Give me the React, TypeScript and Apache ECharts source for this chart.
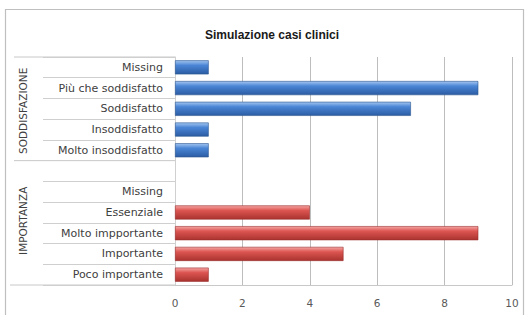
import React, { useEffect, useRef } from "react";
import * as echarts from "echarts";

const title = "Simulazione casi clinici";
const groupNames = ["SODDISFAZIONE", "IMPORTANZA"];
const soddCategories = ["Missing", "Più che soddisfatto", "Soddisfatto", "Insoddisfatto", "Molto insoddisfatto"];
const soddValues = [1, 9, 7, 1, 1];
const impCategories = ["Missing", "Essenziale", "Molto impportante", "Importante", "Poco importante"];
const impValues = [0, 4, 9, 5, 1];
const xTicks = [0, 2, 4, 6, 8, 10];

const FONT = "'DejaVu Sans', 'Liberation Sans', sans-serif";

export default function App() {
  const ref = useRef<HTMLDivElement>(null);
  useEffect(() => {
    document.body.style.margin = "0";
    const chart = echarts.init(ref.current!, null, { renderer: "svg" });
    const categories = [...soddCategories, "", ...impCategories];
    const toItem = (v: number) => (v === 0 ? { value: v, itemStyle: { borderWidth: 0, opacity: 0 } } : v);
    const blue = [...soddValues.map(toItem), ...new Array(impCategories.length + 1).fill(null)];
    const red = [...new Array(soddCategories.length + 1).fill(null), ...impValues.map(toItem)];
    const blueGrad = new echarts.graphic.LinearGradient(0, 0, 0, 1, [
      { offset: 0, color: "#a3c5f0" },
      { offset: 0.35, color: "#4a85d5" },
      { offset: 1, color: "#2b5ca3" },
    ]);
    const redGrad = new echarts.graphic.LinearGradient(0, 0, 0, 1, [
      { offset: 0, color: "#f5a5a3" },
      { offset: 0.35, color: "#dc5551" },
      { offset: 1, color: "#a9332f" },
    ]);
    chart.setOption({
      animation: false,
      backgroundColor: "#ffffff",
      title: {
        text: title,
        left: 200,
        top: 24,
        textStyle: { fontFamily: "'Liberation Sans', sans-serif", fontSize: 12, fontWeight: "bold", color: "#1a1a1a" },
      },
      grid: { left: 175, right: 16, top: 57, bottom: 30 },
      xAxis: {
        type: "value",
        min: xTicks[0],
        max: xTicks[xTicks.length - 1],
        interval: 2,
        axisLine: { show: true, lineStyle: { color: "#c8c8c8" } },
        axisTick: { show: false },
        splitLine: { show: true, lineStyle: { color: "#bdbdbd" } },
        axisLabel: { fontFamily: FONT, fontSize: 10.5, color: "#595959", margin: 12 },
      },
      yAxis: {
        type: "category",
        inverse: true,
        data: categories,
        axisLine: { show: true, lineStyle: { color: "#d0d0d0" } },
        axisTick: { show: true, length: 132, lineStyle: { color: "#cfcfcf" } },
        axisLabel: { fontFamily: FONT, fontSize: 11, color: "#404040", margin: 12 },
      },
      series: [
        {
          type: "bar",
          data: blue,
          barCategoryGap: "32%",
          barGap: "-100%",
          itemStyle: { color: blueGrad, borderColor: "#2a5590", borderWidth: 0.6 },
        },
        {
          type: "bar",
          data: red,
          barCategoryGap: "32%",
          itemStyle: { color: redGrad, borderColor: "#9a2e2b", borderWidth: 0.6 },
        },
      ],
    });

    const n = categories.length;
    const c0 = chart.convertToPixel({ yAxisIndex: 0 }, 0) as number;
    const c1 = chart.convertToPixel({ yAxisIndex: 0 }, 1) as number;
    const band = c1 - c0;
    const top = c0 - band / 2;
    const mid = top + band * soddCategories.length;
    const bottom = top + band * n;
    const gx = chart.convertToPixel({ xAxisIndex: 0 }, 0) as number;
    const lineStyle = { stroke: "#c8c8c8", lineWidth: 1 };
    chart.setOption({
      graphic: [
        { type: "rect", shape: { x: 5.5, y: 9.5, width: 518, height: 320 }, style: { fill: "none", stroke: "#bfbfbf", lineWidth: 1.2 }, silent: true },
        { type: "line", shape: { x1: 14, y1: top, x2: gx, y2: top }, style: lineStyle },
        { type: "line", shape: { x1: 14, y1: mid, x2: gx, y2: mid }, style: lineStyle },
        { type: "line", shape: { x1: 10, y1: bottom, x2: gx, y2: bottom }, style: lineStyle },
        {
          type: "text",
          x: 23,
          y: (top + mid) / 2 + 2,
          rotation: Math.PI / 2,
          style: { text: groupNames[0], fontFamily: FONT, fontSize: 10.5, fill: "#404040", align: "center", verticalAlign: "middle" },
        },
        {
          type: "text",
          x: 23,
          y: (mid + bottom) / 2 - 2,
          rotation: Math.PI / 2,
          style: { text: groupNames[1], fontFamily: FONT, fontSize: 10.5, fill: "#404040", align: "center", verticalAlign: "middle" },
        },
      ],
    });
    return () => chart.dispose();
  }, []);
  return <div ref={ref} style={{ width: 528, height: 315 }} />;
}
